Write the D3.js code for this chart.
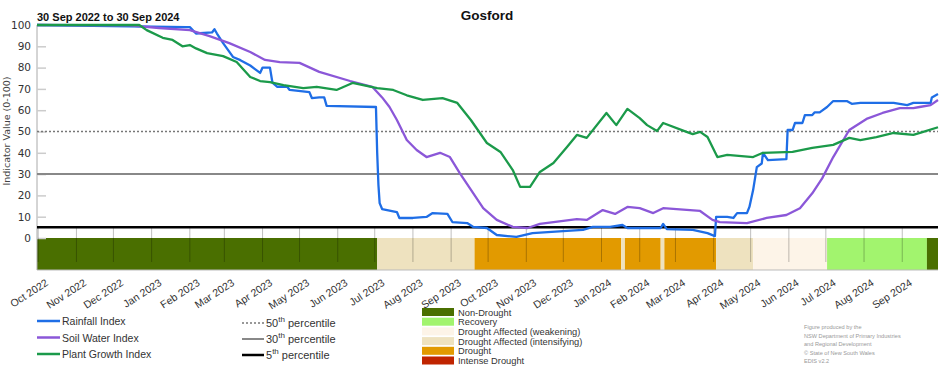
<html>
<head>
<meta charset="utf-8">
<script src="https://d3js.org/d3.v7.min.js"></script>
<style>
  body { margin: 0; background: #fff; font-family: "Liberation Sans", Arial, sans-serif; }
  text { fill: #333; }
</style>
</head>
<body>
<svg id="chart" width="952" height="370"></svg>
<script>
// indicator series: [date, value]
const rainfall = [
  ["2022-09-30",100],["2023-01-29",99],["2023-02-01",99],["2023-02-06",96],["2023-02-19",96.5],
  ["2023-02-21",98],["2023-02-23",96],["2023-02-28",91.5],["2023-03-08",85],["2023-03-14",83.5],
  ["2023-03-22",81],["2023-03-30",77.5],["2023-04-01",80],["2023-04-07",80],["2023-04-09",73],
  ["2023-04-13",71],["2023-04-21",71],["2023-04-23",69.5],["2023-05-09",68.5],["2023-05-11",65.7],
  ["2023-05-17",66],["2023-05-21",66],["2023-05-23",62],["2023-07-02",61.5],["2023-07-03",40],
  ["2023-07-04",25],["2023-07-05",16.4],["2023-07-07",13.6],["2023-07-19",12.2],["2023-07-21",9.4],
  ["2023-08-01",9.4],["2023-08-12",9.9],["2023-08-17",11.7],["2023-08-29",11.3],["2023-09-02",7.5],
  ["2023-09-14",7],["2023-09-19",5.2],["2023-09-30",4.7],["2023-10-08",1.4],["2023-10-24",0.5],
  ["2023-11-06",2.3],["2023-12-04",3.3],["2023-12-17",3.8],["2023-12-25",5.2],["2024-01-08",5.2],
  ["2024-01-18",6.1],["2024-01-22",4.7],["2024-02-18",4.7],["2024-02-20",6.6],["2024-02-23",4.2],
  ["2024-03-15",3.8],["2024-03-27",2.3],["2024-04-02",0.9],["2024-04-03",9.9],["2024-04-12",9.9],
  ["2024-04-17",9.4],["2024-04-20",11.7],["2024-04-28",11.7],["2024-04-30",14.6],["2024-05-03",22.5],
  ["2024-05-06",33.3],["2024-05-10",35],["2024-05-11",40],["2024-05-15",36.6],["2024-05-30",37],
  ["2024-05-31",50.7],["2024-06-04",50.7],["2024-06-06",54],["2024-06-12",54],["2024-06-14",57.7],
  ["2024-06-20",57.7],["2024-06-22",59],["2024-06-26",59],["2024-07-02",61.5],["2024-07-07",64.3],
  ["2024-07-18",64.3],["2024-07-22",63],["2024-07-29",63.4],["2024-08-25",63.4],["2024-09-05",62.4],
  ["2024-09-10",63.4],["2024-09-24",63.4],["2024-09-25",66],["2024-09-30",67.6]
];
const soilWater = [
  ["2022-09-30",100],["2022-12-14",99.8],["2023-01-07",98.6],["2023-02-01",97.6],["2023-02-17",94.8],
  ["2023-03-05",91.5],["2023-03-22",87.3],["2023-04-03",83.6],["2023-04-15",82.6],["2023-05-01",82.2],
  ["2023-05-17",78],["2023-06-11",73.7],["2023-06-29",71],["2023-07-07",66],["2023-07-13",61.5],
  ["2023-07-19",55.4],["2023-07-27",46],["2023-08-04",41.3],["2023-08-12",38],["2023-08-23",40],
  ["2023-08-31",38],["2023-09-08",30.5],["2023-09-19",21],["2023-09-27",14],["2023-10-08",8.5],
  ["2023-10-21",5.2],["2023-11-02",4.7],["2023-11-12",6.6],["2023-12-12",8.9],["2023-12-20",8.5],
  ["2024-01-02",13.1],["2024-01-12",11.3],["2024-01-22",14.6],["2024-02-01",14],["2024-02-12",11.7],
  ["2024-02-20",14],["2024-03-21",12.7],["2024-03-31",8.5],["2024-04-06",7.5],["2024-04-28",7],
  ["2024-05-14",9.4],["2024-05-30",10.8],["2024-06-10",14],["2024-06-20",21],["2024-06-28",28],
  ["2024-07-07",38],["2024-07-20",50.7],["2024-08-03",55.9],["2024-08-16",58.7],["2024-08-30",61],
  ["2024-09-10",61],["2024-09-15",61.5],["2024-09-24",62.4],["2024-09-30",64.8]
];
const plantGrowth = [
  ["2022-09-30",100],["2022-12-22",100],["2022-12-28",97.6],["2023-01-10",94],["2023-01-18",93],
  ["2023-01-26",90],["2023-02-01",90.6],["2023-02-06",89],["2023-02-15",86.8],["2023-02-28",85.4],
  ["2023-03-11",82.6],["2023-03-22",75.6],["2023-03-30",73.7],["2023-04-07",73.2],["2023-04-18",71.8],
  ["2023-05-04",70.4],["2023-05-15",71],["2023-05-31",69.5],["2023-06-13",72.8],["2023-07-03",70.4],
  ["2023-07-16",69.5],["2023-07-27",67],["2023-08-09",64.8],["2023-08-25",65.7],["2023-09-06",63.4],
  ["2023-09-17",55.4],["2023-09-30",44.6],["2023-10-11",40.4],["2023-10-21",31.9],["2023-10-27",24],
  ["2023-11-04",24],["2023-11-12",31],["2023-11-23",35.2],["2023-12-04",42.7],["2023-12-12",48.4],
  ["2023-12-20",47],["2024-01-05",58.7],["2024-01-13",53],["2024-01-22",60.6],["2024-02-01",56.3],
  ["2024-02-07",53],["2024-02-15",50.2],["2024-02-20",54],["2024-03-10",49.8],["2024-03-15",48.8],
  ["2024-03-21",49.8],["2024-03-27",47.4],["2024-04-04",38],["2024-04-12",39],["2024-05-03",38],
  ["2024-05-11",40],["2024-06-04",40.4],["2024-06-20",42.3],["2024-07-07",43.7],["2024-07-20",47],
  ["2024-07-29",46],["2024-08-11",47.4],["2024-08-25",49.3],["2024-09-10",48.4],["2024-09-18",49.8],
  ["2024-09-30",52]
];

// drought category bar
const phaseStart = ["2022-09-30","2023-07-03","2023-09-20","2024-01-17","2024-01-20","2024-02-18",
                    "2024-02-21","2024-04-03","2024-05-03","2024-07-02","2024-09-21"];
const phaseEnd   = ["2023-07-03","2023-09-20","2024-01-17","2024-01-20","2024-02-18","2024-02-21",
                    "2024-04-03","2024-05-03","2024-07-02","2024-09-21","2024-09-30"];
const phaseCat   = ["Non-Drought","Drought Affected (intensifying)","Drought","Drought Affected (intensifying)",
                    "Drought","Drought Affected (intensifying)","Drought","Drought Affected (intensifying)",
                    "Drought Affected (weakening)","Recovery","Non-Drought"];

const categories = ["Non-Drought","Recovery","Drought Affected (weakening)",
                    "Drought Affected (intensifying)","Drought","Intense Drought"];
const catColors  = ["#4a6f00","#a2f46e","#fdf4e8","#eee2bf","#e29a00","#c02400"];

const seriesNames  = ["Rainfall Index","Soil Water Index","Plant Growth Index"];
const seriesColors = ["#1f6ee6","#8b57d8","#1b9a4a"];
const percentiles  = [50, 30, 5];
const pctLabels    = ["50","30","5"];
const yTicks = [0,10,20,30,40,50,60,70,80,90,100];
const footnote = ["Figure produced by the","NSW Department of Primary Industries",
                  "and Regional Development","\u00a9 State of New South Wales","EDIS v2.2"];

const parse = d3.timeParse("%Y-%m-%d");
const svg = d3.select("#chart");

const x = d3.scaleTime()
  .domain([parse("2022-09-30"), parse("2024-09-30")])
  .range([37, 938]);
const y = d3.scaleLinear().domain([0, 100]).range([238, 25]);
const bandTop = 238, bandBottom = 270;
const catColor = d3.scaleOrdinal().domain(categories).range(catColors);

// titles
svg.append("text").attr("x", 487).attr("y", 20).attr("text-anchor", "middle")
  .style("font-size", "13.5px").style("font-weight", "bold").style("fill", "#111").text("Gosford");
svg.append("text").attr("x", 37).attr("y", 21)
  .style("font-size", "11px").style("font-weight", "bold").style("fill", "#111")
  .text("30 Sep 2022 to 30 Sep 2024");

// drought phase band
svg.append("g").selectAll("rect")
  .data(phaseCat)
  .join("rect")
    .attr("x", (d, i) => x(parse(phaseStart[i])))
    .attr("width", (d, i) => x(parse(phaseEnd[i])) - x(parse(phaseStart[i])))
    .attr("y", bandTop)
    .attr("height", bandBottom - bandTop)
    .attr("fill", d => catColor(d));
svg.append("line").attr("x1", 37).attr("x2", 938).attr("y1", bandBottom).attr("y2", bandBottom)
  .attr("stroke", "#bbb").attr("stroke-width", 1);

// y axis
const yAxis = svg.append("g")
  .attr("transform", "translate(37,0)")
  .call(d3.axisRight(y).tickValues(yTicks).tickSize(9).tickFormat(d3.format("d")));
yAxis.select(".domain").attr("d", "M0,25V270").attr("stroke", "#aaa");
yAxis.selectAll(".tick line").attr("stroke", "#ccc").attr("stroke-width", 1.5);
yAxis.selectAll(".tick text").attr("x", -6).attr("text-anchor", "end")
  .style("font-family", "'DejaVu Sans', sans-serif").style("font-size", "10.5px").style("fill", "#333");
svg.append("text")
  .attr("transform", "translate(10,131) rotate(-90)")
  .attr("text-anchor", "middle")
  .style("font-family", "'DejaVu Sans', sans-serif").style("font-size", "9.5px").style("fill", "#444")
  .text("Indicator Value (0-100)");

// x axis
const months = d3.timeMonth.range(parse("2022-10-01"), parse("2024-09-02"));
const xAxis = svg.append("g")
  .attr("transform", "translate(0," + bandBottom + ")")
  .call(d3.axisBottom(x).tickValues(months).tickSize(0).tickFormat(d3.timeFormat("%b %Y")));
xAxis.select(".domain").remove();
xAxis.selectAll(".tick text")
  .attr("text-anchor", "end")
  .attr("transform", "translate(4,5) rotate(-33)")
  .attr("dy", "0.8em")
  .style("font-size", "10.5px").style("fill", "#333");
svg.append("g").selectAll("line")
  .data(months)
  .join("line")
    .attr("x1", d => x(d)).attr("x2", d => x(d))
    .attr("y1", 228).attr("y2", 262)
    .attr("stroke", "rgba(0,0,0,0.25)").attr("stroke-width", 1);

// percentile lines
const pctStyle = [
  {stroke: "#777", width: 1.5, dash: "2,2"},
  {stroke: "#888", width: 2, dash: null},
  {stroke: "#000", width: 2.5, dash: null}
];
svg.append("g").selectAll("line")
  .data(percentiles)
  .join("line")
    .attr("x1", 37).attr("x2", 938)
    .attr("y1", d => y(d)).attr("y2", d => y(d))
    .attr("stroke", (d, i) => pctStyle[i].stroke)
    .attr("stroke-width", (d, i) => pctStyle[i].width)
    .attr("stroke-dasharray", (d, i) => pctStyle[i].dash);

// index lines
const line = d3.line()
  .x(d => x(parse(d[0])))
  .y(d => y(d[1]));
[rainfall, soilWater, plantGrowth].forEach((s, i) => {
  svg.append("path")
    .datum(s)
    .attr("fill", "none")
    .attr("stroke", seriesColors[i])
    .attr("stroke-width", 2.3)
    .attr("stroke-linejoin", "round")
    .attr("d", line);
});

// legends: series
const leg1 = svg.append("g");
seriesNames.forEach((n, i) => {
  const yy = 321 + i * 16.5;
  leg1.append("line").attr("x1", 37).attr("x2", 60).attr("y1", yy).attr("y2", yy)
    .attr("stroke", seriesColors[i]).attr("stroke-width", 2.5);
  leg1.append("text").attr("x", 62).attr("y", yy + 4).style("font-size", "10.5px").text(n);
});

// legends: percentiles
const leg2 = svg.append("g");
pctLabels.forEach((p, i) => {
  const yy = 323 + i * 16;
  leg2.append("line").attr("x1", 242).attr("x2", 264).attr("y1", yy).attr("y2", yy)
    .attr("stroke", pctStyle[i].stroke).attr("stroke-width", pctStyle[i].width)
    .attr("stroke-dasharray", pctStyle[i].dash);
  const t = leg2.append("text").attr("x", 266).attr("y", yy + 4).style("font-size", "11px");
  t.append("tspan").text(p);
  t.append("tspan").attr("dy", -5).style("font-size", "8px").text("th");
  t.append("tspan").attr("dy", 5).text(" percentile");
});

// legends: categories
const leg3 = svg.append("g");
categories.forEach((c, i) => {
  const yy = 312 + i * 9.7;
  leg3.append("rect").attr("x", 422).attr("y", yy - 4).attr("width", 32).attr("height", 8)
    .attr("fill", catColors[i]);
  leg3.append("text").attr("x", 458).attr("y", yy + 3.5).style("font-size", "9.3px").text(c);
});

// footnote
svg.append("g").selectAll("text")
  .data(footnote)
  .join("text")
    .attr("x", 804).attr("y", (d, i) => 329 + i * 8.5)
    .style("font-size", "5.6px").style("fill", "#999")
    .text(d => d);
</script>
</body>
</html>
